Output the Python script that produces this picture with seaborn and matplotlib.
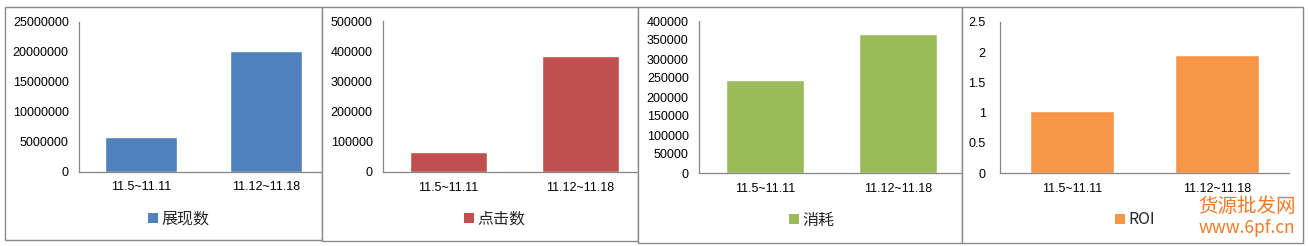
import matplotlib
matplotlib.use("Agg")
import matplotlib.pyplot as plt
from matplotlib.patches import Rectangle, Patch
import seaborn as sns
import pandas as pd

# ---- data ----
categories = ['11.5~11.11', '11.12~11.18']
impressions = [5750000, 20100000]
clicks = [66000, 384000]
spend = [245000, 366000]
roi = [1.03, 1.95]
series_names = ['展现数', '点击数', '消耗', 'ROI']
y_ticks = [
    [0, 5000000, 10000000, 15000000, 20000000, 25000000],
    [0, 100000, 200000, 300000, 400000, 500000],
    [0, 50000, 100000, 150000, 200000, 250000, 300000, 350000, 400000],
    [0, 0.5, 1, 1.5, 2, 2.5],
]
y_tick_labels = [
    ['0', '5000000', '10000000', '15000000', '20000000', '25000000'],
    ['0', '100000', '200000', '300000', '400000', '500000'],
    ['0', '50000', '100000', '150000', '200000', '250000', '300000', '350000', '400000'],
    ['0', '0.5', '1', '1.5', '2', '2.5'],
]
values = [impressions, clicks, spend, roi]
colors = ['#4F81BD', '#C0504D', '#9BBB59', '#F79646']

sns.set_style("white")
plt.rcParams['font.family'] = ['Liberation Sans', 'Noto Sans CJK SC']

W, H = 1308, 246
fig = plt.figure(figsize=(W / 100, H / 100), dpi=100)

def fx(px):
    return px / W

def fy(py):
    return 1 - py / H

# frames (x0, x1, y0, y1) in pixels
frames = [(5, 322, 7, 240), (322, 638, 7, 241), (638, 962, 7, 243), (962, 1303, 7, 243)]
# axes area (x0, x1, ytop, ybottom)
axes_px = [(78.5, 328.5, 21.5, 171.5), (382.5, 646.5, 21, 172),
           (698.5, 964.5, 21, 173), (999.5, 1289, 22, 173)]
legend_px = [(148, 219), (464, 219), (789, 220), (1115, 220)]
pads = [7.0, 7.0, 7.0, 10.0]

for i in range(4):
    x0, x1, y0, y1 = frames[i]
    rect = Rectangle((fx(x0), fy(y1)), fx(x1 - x0), (y1 - y0) / H,
                     transform=fig.transFigure, facecolor='white',
                     edgecolor='#8a8a8a', linewidth=1.0, zorder=2 * i)
    fig.add_artist(rect)

    ax0, ax1, at, ab = axes_px[i]
    ax = fig.add_axes([fx(ax0), fy(ab), fx(ax1 - ax0), (ab - at) / H])
    ax.set_zorder(2 * i + 1)
    ax.patch.set_alpha(0)
    df = pd.DataFrame({'cat': categories, 'val': values[i]})
    sns.barplot(data=df, x='cat', y='val', color=colors[i], saturation=1,
                width=0.58, ax=ax, errorbar=None)
    ax.set_xlim(-0.5, 1.5)
    ax.set_ylim(0, y_ticks[i][-1])
    ax.set_yticks(y_ticks[i])
    ax.set_yticklabels(y_tick_labels[i])
    ax.set_xlabel('')
    ax.set_ylabel('')
    ax.tick_params(axis='both', length=0, labelsize=9, colors='black')
    ax.tick_params(axis='y', pad=pads[i])
    ax.tick_params(axis='x', pad=7)
    for s in ['top', 'right']:
        ax.spines[s].set_visible(False)
    for s in ['left', 'bottom']:
        ax.spines[s].set_color('#868686')
        ax.spines[s].set_linewidth(0.9)
    ax.grid(False)

    lx, ly = legend_px[i]
    handle = Patch(facecolor=colors[i], edgecolor='none')
    ax.legend([handle], [series_names[i]], loc='center left',
              bbox_to_anchor=(fx(lx), fy(ly)), bbox_transform=fig.transFigure,
              frameon=False, borderpad=0, borderaxespad=0,
              handlelength=0.6, handleheight=0.6, handletextpad=0.25,
              prop={'family': ['Noto Sans CJK SC'], 'size': 11.5})

# watermark
fig.text(fx(1247), fy(206), '货源批发网', color='#F07A28', fontsize=14,
         family=['Noto Sans CJK SC'], ha='center', va='center', zorder=20)
fig.text(fx(1247), fy(228), 'www.6pf.cn', color='#F07A28', fontsize=12.5,
         family=['Noto Sans CJK SC'], ha='center', va='center', zorder=20)

fig.savefig('out.png', dpi=100, facecolor='white')
